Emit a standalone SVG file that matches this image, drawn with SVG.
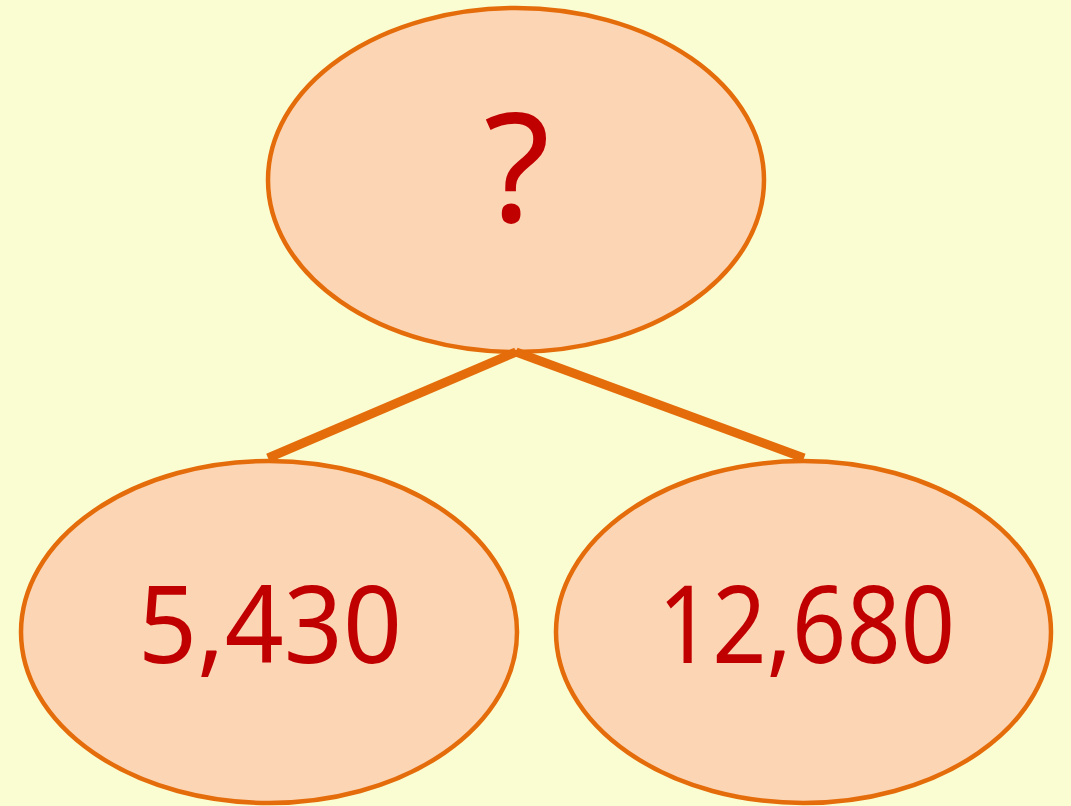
<svg xmlns="http://www.w3.org/2000/svg" width="1071" height="806" viewBox="0 0 1071 806">
<style>
.node{fill:#fcd5b4;stroke:#e46c0a;stroke-width:4.5}
.lbl{font-family:"Noto Sans","Open Sans",sans-serif;font-size:108px;fill:#c00000;text-anchor:middle}
.edge{stroke:#e46c0a;stroke-width:9;fill:none}
</style>
<rect width="1071" height="806" fill="#fafdd2"/>
<g id="node-top"><ellipse class="node" cx="516" cy="180" rx="248" ry="172"/><text class="lbl" x="517" y="222" style="font-size:152px">?</text></g>
<g id="node-left"><ellipse class="node" cx="269" cy="632" rx="248" ry="171"/><text class="lbl" x="270" y="663" textLength="264" lengthAdjust="spacingAndGlyphs">5,430</text></g>
<g id="node-right"><ellipse class="node" cx="803.5" cy="632" rx="247.5" ry="171"/><text class="lbl" x="806.5" y="663" textLength="297" lengthAdjust="spacingAndGlyphs">12,680</text></g>
<g id="connectors"><path class="edge" d="M516,352 L268,458"/><path class="edge" d="M516,352 L804,458"/></g>
</svg>
